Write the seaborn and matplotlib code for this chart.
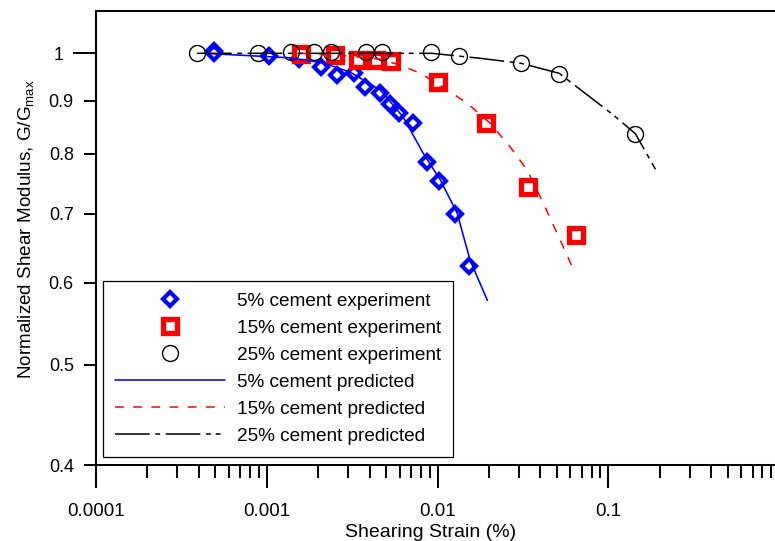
import matplotlib
matplotlib.use("Agg")
import matplotlib.pyplot as plt
import seaborn as sns
import pandas as pd
from matplotlib.ticker import FixedLocator, FuncFormatter, NullFormatter, LogLocator

# ---------------- data ----------------
strain_5_exp = [0.000488, 0.000494, 0.00103, 0.001546, 0.00207, 0.00258, 0.00325, 0.00377,
                0.00458, 0.00524, 0.00592, 0.00717, 0.00873, 0.01022, 0.01268, 0.01538]
g_5_exp = [1.006, 1.0, 0.993, 0.987, 0.970, 0.953, 0.957, 0.928,
           0.915, 0.893, 0.876, 0.857, 0.785, 0.752, 0.699, 0.623]

strain_15_exp = [0.00159, 0.0025, 0.0034, 0.00437, 0.00535, 0.01008, 0.0192, 0.0338, 0.0649]
g_15_exp = [0.998, 0.997, 0.985, 0.985, 0.982, 0.939, 0.856, 0.743, 0.667]

strain_25_exp = [0.000389, 0.000883, 0.00139, 0.00188, 0.002365, 0.00383, 0.00475,
                 0.0092, 0.01338, 0.0309, 0.0516, 0.1443]
g_25_exp = [1.0, 1.0, 1.003, 1.002, 1.002, 1.002, 1.002, 1.002, 0.995, 0.978, 0.956, 0.836]

strain_5_pred = [0.000435, 0.00137, 0.002137, 0.003076, 0.00461, 0.00629, 0.00823,
                 0.01036, 0.01302, 0.01552, 0.0196]
g_5_pred = [1.0, 0.990, 0.979, 0.959, 0.922, 0.868, 0.801, 0.755, 0.701, 0.631, 0.577]

strain_15_pred = [0.00159, 0.003076, 0.00461, 0.00604, 0.00791, 0.01138, 0.01491,
                  0.02033, 0.02663, 0.0335, 0.04155, 0.05228, 0.0631]
g_15_pred = [1.0, 0.994, 0.987, 0.974, 0.957, 0.922, 0.895, 0.856, 0.812, 0.771,
             0.717, 0.660, 0.616]

strain_25_pred = [0.00039, 0.00461, 0.00926, 0.01777, 0.0309, 0.0516, 0.0713,
                  0.1069, 0.1443, 0.189]
g_25_pred = [1.0, 1.0, 1.0, 0.989, 0.978, 0.9565, 0.918, 0.872, 0.836, 0.7725]

x_ticks = [0.0001, 0.001, 0.01, 0.1, 1]
x_ticklabels = ["0.0001", "0.001", "0.01", "0.1", "1"]
y_major = [1.0]
y_minor = [0.4, 0.5, 0.6, 0.7, 0.8, 0.9]

labels = ["5% cement experiment", "15% cement experiment", "25% cement experiment",
          "5% cement predicted", "15% cement predicted", "25% cement predicted"]

# ---------------- style ----------------
sns.set_theme(style="ticks")
plt.rcParams.update({
    "font.family": ["Liberation Sans", "DejaVu Sans"],
    "mathtext.fontset": "custom",
    "mathtext.rm": "Liberation Sans",
    "mathtext.it": "Liberation Sans:italic",
    "mathtext.bf": "Liberation Sans:bold",
    "lines.scale_dashes": False,
    "axes.edgecolor": "black",
    "axes.labelcolor": "black",
    "text.color": "black",
    "xtick.color": "black",
    "ytick.color": "black",
    "axes.linewidth": 1.45,
})

fig = plt.figure(figsize=(7.75, 5.41), dpi=100)
ax = fig.add_axes([96 / 775, 76 / 541, 683 / 775, 454.5 / 541])

# experiments (markers)
sns.lineplot(x=strain_5_exp, y=g_5_exp, ax=ax, estimator=None, sort=False,
             color="blue", marker="D", linestyle="", markersize=7.2,
             markeredgewidth=3.0, markerfacecolor="white", markeredgecolor="blue",
             label=labels[0], zorder=2)
sns.lineplot(x=strain_15_exp, y=g_15_exp, ax=ax, estimator=None, sort=False,
             color="red", marker="s", linestyle="", markersize=9.4,
             markeredgewidth=3.8, markerfacecolor="white", markeredgecolor="red",
             label=labels[1], zorder=2)
sns.lineplot(x=strain_25_exp, y=g_25_exp, ax=ax, estimator=None, sort=False,
             color="black", marker="o", linestyle="", markersize=11.5,
             markeredgewidth=1.0, markerfacecolor="none", markeredgecolor="black",
             label=labels[2], zorder=2)

# predictions (lines)
sns.lineplot(x=strain_5_pred, y=g_5_pred, ax=ax, estimator=None, sort=False,
             color="blue", linewidth=1.15, linestyle="-", label=labels[3], zorder=3)
sns.lineplot(x=strain_15_pred, y=g_15_pred, ax=ax, estimator=None, sort=False,
             color="red", linewidth=1.1, linestyle=(0, (6.3, 6.8)),
             label=labels[4], zorder=3)
sns.lineplot(x=strain_25_pred, y=g_25_pred, ax=ax, estimator=None, sort=False,
             color="black", linewidth=1.1,
             linestyle=(0, (25, 4, 3.5, 4, 25, 4, 3.5, 3.5, 3.5, 4)),
             label=labels[5], zorder=3)

# ---------------- axes ----------------
ax.set_xscale("log")
ax.set_yscale("log")
ax.set_xlim(1e-4, 1)
ax.set_ylim(0.4, 1.1)

ax.xaxis.set_major_locator(FixedLocator(x_ticks))
ax.xaxis.set_major_formatter(FuncFormatter(
    lambda v, p: x_ticklabels[x_ticks.index(min(x_ticks, key=lambda t: abs(t - v)))]))
ax.xaxis.set_minor_locator(LogLocator(base=10, subs=(2, 3, 4, 5, 6, 7, 8, 9), numticks=20))
ax.xaxis.set_minor_formatter(NullFormatter())

ax.yaxis.set_major_locator(FixedLocator(y_major))
ax.yaxis.set_major_formatter(FuncFormatter(lambda v, p: f"{v:g}"))
ax.yaxis.set_minor_locator(FixedLocator(y_minor))
ax.yaxis.set_minor_formatter(FuncFormatter(lambda v, p: f"{v:g}"))

ax.tick_params(axis="both", which="major", direction="out", length=16.5, width=1.45)
ax.tick_params(axis="both", which="minor", direction="out", length=9, width=1.45)
ax.tick_params(axis="x", which="both", labelsize=13.5, pad=11)
ax.tick_params(axis="y", which="both", labelsize=13, pad=7)

for s in ax.spines.values():
    s.set_visible(True)
    s.set_linewidth(1.45)
    s.set_color("black")

ax.set_xlabel("Shearing Strain (%)", fontsize=14)
ax.set_ylabel(r"Normalized Shear Modulus, G/G$_{\mathregular{max}}$", fontsize=13.6)
ax.xaxis.set_label_coords(0.49, -0.13)
ax.yaxis.set_label_coords(-0.088, 0.518)

# ---------------- legend ----------------
handles, labs = ax.get_legend_handles_labels()
hmap = dict(zip(labs, handles))
leg = ax.legend([hmap[l] for l in labels], labels, loc="lower left",
                bbox_to_anchor=(0.0107, 0.0183), borderaxespad=0, frameon=True,
                fancybox=False, edgecolor="black", framealpha=1, fontsize=13.7,
                handlelength=5.8, handletextpad=0.6, borderpad=0.62,
                labelspacing=0.51, numpoints=1)
leg.get_frame().set_linewidth(0.9)

fig.savefig("out.png", dpi=100)
